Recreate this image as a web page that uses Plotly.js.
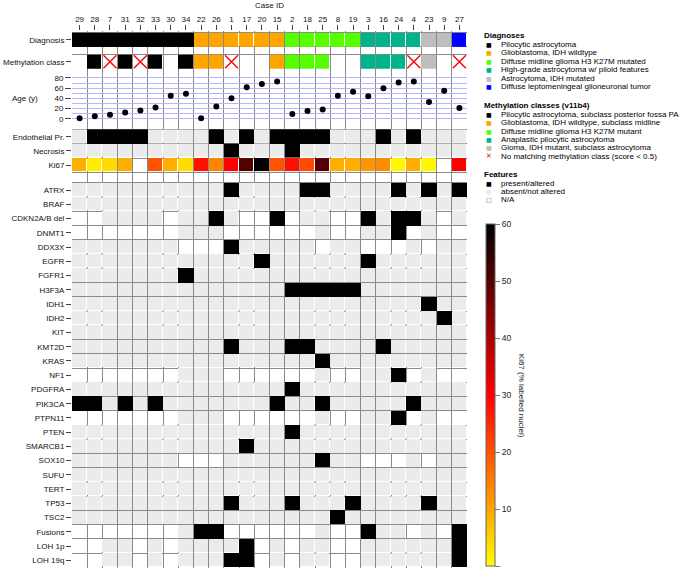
<!DOCTYPE html>
<html><head><meta charset="utf-8">
<script src="https://cdn.plot.ly/plotly-3.0.1.min.js"></script>
<style>html,body{margin:0;padding:0;background:#fff}#chart{width:685px;height:570px}</style>
</head><body><div id="chart"></div>
<script>
// ---------------- data ----------------
const caseIds = ['29','28','7','31','32','33','30','34','22','26','1','17','20','15','2','18','25','8','19','3','16','24','4','23','9','27'];
const diagnosis = ['PA','PA','PA','PA','PA','PA','PA','PA','GBM','GBM','GBM','GBM','GBM','GBM','DMG','DMG','DMG','DMG','DMG','HGAP','HGAP','HGAP','HGAP','IDH','IDH','DLGNT'];
const methylation = [null,'PA','none','PA','none','PA',null,'PA','GBM','GBM','none',null,null,'GBM','DMG','DMG','DMG',null,null,'APA','APA','APA','none','IDH',null,'none'];
const ageYears = [1,5,8,12,16,22,45,49,1,24,40,62,68,73,9,15,18,45,53,44,60,71,73,33,55,21];
const endothelialPr = [0,1,1,1,1,0,0,0,0,1,0,1,0,1,1,1,1,0,0,0,1,0,1,0,0,0];
const necrosis = [0,0,0,0,0,0,0,0,0,0,1,0,0,0,1,0,0,0,0,0,0,0,0,0,0,0];
const ki67 = [9,2,4,9,null,20,9,4,28,14,30,50,60,20,28,21,50,9,9,12,13,1,9,1,null,30];
const clinicalRows = ['Endothelial Pr.','Necrosis','Ki67'];
const geneNames = ['ATRX','BRAF','CDKN2A/B del','DNMT1','DDX3X','EGFR','FGFR1','H3F3A','IDH1','IDH2','KIT','KMT2D','KRAS','NF1','PDGFRA','PIK3CA','PTPN11','PTEN','SMARCB1','SOX10','SUFU','TERT','TP53','TSC2','Fusions','LOH 1p','LOH 19q'];
// '1' present/altered, '0' absent/not altered, '-' N/A
const geneStatus = [
  '00000000001000011000010101',
  '00000000000000000000000000',
  '--0000-0010--1-00--10110-0',
  '-------000------0--001-0--',
  '0000000---100000-00---0-00',
  '00000000000010000001000000',
  '00000001000000000000000000',
  '00000000000000111110000000',
  '00000000000000000000000100',
  '00000000000000000000000010',
  '00000000000000000000000000',
  '00000000001000110000100000',
  '00000000000000001000000000',
  '-------000------0--001-0--',
  '00000000000000100000000000',
  '11010100000001001000001000',
  '-------000------0--001-0--',
  '00000000000000100000000000',
  '00000000000100000000000000',
  '0000000---000000100---0-00',
  '00000000000000000000000000',
  '00000000000000000000000000',
  '00000000001000100010000100',
  '00000000000000000100000000',
  '-------011------0--100-0-1',
  '--00-0-00001-0-00--0000001',
  '--00-0-00011-0-00--0000001'
];
const diagnosisClasses = ['PA','GBM','DMG','HGAP','IDH','DLGNT'];
const diagnosisLabels = ['Pilocytic astrocytoma','Glioblastoma, IDH wildtype','Diffuse midline glioma H3 K27M mutated','High-grade astrocytoma w/ piloid features','Astrocytoma, IDH mutated','Diffuse leptomeningeal glioneuronal tumor'];
const methylationClasses = ['PA','GBM','DMG','APA','IDH'];
const methylationLabels = ['Pilocytic astrocytoma, subclass posterior fossa PA','Glioblastoma, IDH wildtype, subclass midline','Diffuse midline glioma H3 K27M mutant','Anaplastic pilocytic astrocytoma','Gioma, IDH mutant, subclass astrocytoma'];
const noMatchLabel = 'No matching methylation class (score < 0.5)';
const featureLabels = ['present/altered','absent/not altered','N/A'];
const classColors = ['#000000','#FFA500','#55FF00','#00B38A','#BEBEBE','#0000FF'];
const ki67Ticks = [0,10,20,30,40,50,60];
const ageTicks = [0,20,40,60,80];

// ---------------- geometry / styling ----------------
const W = 685, H = 570, ML = 72, MR = 218, MT = 31, MB = 2;
const plotW = W - ML - MR, plotH = H - MT - MB;
const py = p => (H - MB - p) / plotH;   // pixel y -> paper
const px = p => (p - ML) / plotW;       // pixel x -> paper
const FONT = 'Liberation Sans, Arial, Helvetica, sans-serif';
const GRID = '#8a8a8a';
const ABSENT = '#ebebeb';
const n = caseIds.length;
const xs = caseIds.map((_, i) => i);

function discreteScale(colors) {
  const s = [], k = colors.length;
  colors.forEach((c, i) => { s.push([i / k, c]); s.push([(i + 1) / k, c]); });
  return s;
}
const binScale = [[0, ABSENT], [0.5, ABSENT], [0.5, '#000000'], [1, '#000000']];
const blackScale = [[0, '#000000'], [1, '#000000']];
const onlyPresent = row => row.map(v => v === 1 ? 1 : null);

// top panel rows
const topPitch = 21.9, diagCenter = 39.8, topBottomPx = 69, topGap = 8;
const topRange = [(topBottomPx - diagCenter) / topPitch, (MT - diagCenter) / topPitch];
const edge = 0.5 - (topGap / 2) / topPitch;
// age panel
const age0 = 118.7, agePxPerUnit = 0.509, ageBottomPx = 124;
const ageRange = [-(ageBottomPx - age0) / agePxPerUnit, (age0 - topBottomPx) / agePxPerUnit];
// main panel
const rowPitch = 14.24, endoCenter = 136.7, geneOffset = 3.75;
const mainRange = [(H - MB - endoCenter) / rowPitch, (ageBottomPx - endoCenter) / rowPitch];
const geneY = geneNames.map((_, i) => geneOffset + i);
const geneZ = geneStatus.map(s => [...s].map(c => c === '1' ? 1 : (c === '0' ? 0 : null)));
const mainMinor = [-0.5, 0.5, 1.5, 2.5].concat(geneNames.concat(['']).map((_, i) => geneOffset - 0.5 + i));

const traces = [];
// Diagnosis
traces.push({type:'heatmap', x: xs, y: [0], z: [diagnosis.map(d => diagnosisClasses.indexOf(d))],
  colorscale: discreteScale(classColors), zmin: -0.5, zmax: classColors.length - 0.5,
  xgap: 1, ygap: topGap, showscale: false, hoverinfo: 'skip', xaxis: 'x', yaxis: 'y'});
traces.push({type:'heatmap', x: xs, y: [0], z: [diagnosis.map(d => d === 'PA' ? 1 : null)],
  colorscale: blackScale, zmin: 0, zmax: 1, ygap: topGap, showscale: false, hoverinfo: 'skip', xaxis: 'x', yaxis: 'y'});
// Methylation class
traces.push({type:'heatmap', x: xs, y: [1],
  z: [methylation.map(m => (m && m !== 'none') ? methylationClasses.indexOf(m) : null)],
  colorscale: discreteScale(classColors.slice(0, methylationClasses.length)), zmin: -0.5, zmax: methylationClasses.length - 0.5,
  xgap: 1, ygap: topGap, showscale: false, hoverinfo: 'skip', xaxis: 'x', yaxis: 'y'});
const noMatchX = xs.filter(i => methylation[i] === 'none');
traces.push({type:'scatter', mode:'markers', x: noMatchX, y: noMatchX.map(() => 1),
  marker: {symbol: 'x-thin', size: 13, color: '#FF0000', line: {color: '#FF0000', width: 1.4}},
  hoverinfo: 'skip', showlegend: false, cliponaxis: false, xaxis: 'x', yaxis: 'y'});
// Age
traces.push({type:'scatter', mode:'markers', x: xs, y: ageYears,
  marker: {size: 6, color: '#000000'}, hoverinfo: 'skip', showlegend: false, cliponaxis: false, xaxis: 'x', yaxis: 'y2'});
// Endothelial proliferation / necrosis
traces.push({type:'heatmap', x: xs, y: [0, 1], z: [endothelialPr, necrosis],
  colorscale: binScale, zmin: 0, zmax: 1, xgap: 1, ygap: 1, showscale: false, hoverinfo: 'skip', xaxis: 'x', yaxis: 'y3'});
traces.push({type:'heatmap', x: xs, y: [0, 1], z: [onlyPresent(endothelialPr), onlyPresent(necrosis)],
  colorscale: blackScale, zmin: 0, zmax: 1, showscale: false, hoverinfo: 'skip', xaxis: 'x', yaxis: 'y3'});
// Ki67
traces.push({type:'heatmap', x: xs, y: [2], z: [ki67],
  colorscale: [[0, '#FFFF00'], [1/6, '#FFA500'], [0.5, '#FF0000'], [1, '#000000']], zmin: 0, zmax: 60,
  xgap: 1, ygap: 1, hoverinfo: 'skip', xaxis: 'x', yaxis: 'y3', showscale: true,
  colorbar: {x: px(486), xanchor: 'left', xpad: 0, ypad: 0, y: py(224.3), yanchor: 'top',
    len: 342, lenmode: 'pixels', thickness: 9, thicknessmode: 'pixels',
    outlinewidth: 1, outlinecolor: '#666', tickvals: ki67Ticks, ticks: 'outside', ticklen: 5,
    tickcolor: '#777', tickfont: {family: FONT, size: 8.5, color: '#222'}}});
// Genes
traces.push({type:'heatmap', x: xs, y: geneY, z: geneZ,
  colorscale: binScale, zmin: 0, zmax: 1, xgap: 1, ygap: 1, showscale: false, hoverinfo: 'skip', xaxis: 'x', yaxis: 'y3'});
traces.push({type:'heatmap', x: xs, y: geneY, z: geneZ.map(onlyPresent),
  colorscale: blackScale, zmin: 0, zmax: 1, showscale: false, hoverinfo: 'skip', xaxis: 'x', yaxis: 'y3'});

const tickFont = {family: FONT, size: 8, color: '#111'};
const yBase = {ticks: 'outside', ticklen: 5, tickcolor: '#444', tickwidth: 1, showline: false,
  zeroline: false, showgrid: false, tickfont: tickFont, automargin: false, fixedrange: true};

// legend annotations
const annotations = [];
function header(text, p) {
  annotations.push({xref:'paper', yref:'paper', x: px(482), y: py(p), xanchor:'left', yanchor:'middle',
    text: '<b>' + text + '</b>', showarrow: false, font: {family: FONT, size: 8, color: '#000'}});
}
function item(glyph, color, size, text, p) {
  annotations.push({xref:'paper', yref:'paper', x: px(489), y: py(p), xanchor:'center', yanchor:'middle',
    text: glyph, showarrow: false, font: {family: 'DejaVu Sans, sans-serif', size: size, color: color}});
  annotations.push({xref:'paper', yref:'paper', x: px(499), y: py(p), xanchor:'left', yanchor:'middle',
    text: text, showarrow: false, font: {family: FONT, size: 8, color: '#000'}});
}
header('Diagnoses', 35.3);
diagnosisLabels.forEach((t, i) => item('■', classColors[i], 6, t, 44.3 + i * 8.47));
header('Methylation classes (v11b4)', 105.7);
methylationLabels.forEach((t, i) => item('■', classColors[i], 6, t, 114.3 + i * 8.4));
item('✕', '#FF0000', 7, noMatchLabel, 114.3 + methylationLabels.length * 8.4);
header('Features', 174.3);
const featureGlyphs = [['■', '#000000'], ['■', ABSENT], ['□', '#444444']];
featureLabels.forEach((t, i) => item(featureGlyphs[i][0], featureGlyphs[i][1], 6, t, 183.3 + i * 8.2));
annotations.push({xref:'paper', yref:'paper', x: px(521.7), y: py(395.5), xanchor:'center', yanchor:'middle',
  text: 'Ki67 (% labelled nuclei)', textangle: 90, showarrow: false, font: {family: FONT, size: 8, color: '#111'}});
annotations.push({xref:'paper', yref:'y2', x: px(40), y: 40, xanchor:'right', yanchor:'middle',
  text: 'Age (y)', showarrow: false, font: {family: FONT, size: 8, color: '#111'}});

const layout = {
  width: W, height: H, margin: {l: ML, r: MR, t: MT, b: MB}, showlegend: false,
  paper_bgcolor: '#fff', plot_bgcolor: '#fff', font: {family: FONT, size: 8, color: '#111'},
  xaxis: {range: [-0.5, n - 0.5], side: 'top', anchor: 'y', tickvals: xs, ticktext: caseIds,
    ticks: 'outside', ticklen: 5, tickcolor: '#444', showgrid: false, zeroline: false, showline: false,
    tickfont: tickFont, automargin: false, fixedrange: true,
    title: {text: 'Case ID', font: {family: FONT, size: 8, color: '#111'}, standoff: 4},
    minor: {tickvals: xs.concat([n]).map(i => i - 0.5), showgrid: true, gridcolor: GRID, gridwidth: 1, ticks: ''}},
  yaxis: Object.assign({}, yBase, {domain: [py(topBottomPx), 1], anchor: 'x', range: topRange,
    tickvals: [0, 1], ticktext: ['Diagnosis', 'Methylation class'],
    minor: {tickvals: [-edge, edge, 1 - edge, 1 + edge], showgrid: true, gridcolor: GRID, gridwidth: 1, ticks: ''}}),
  yaxis2: Object.assign({}, yBase, {domain: [py(ageBottomPx), py(topBottomPx)], anchor: 'x', range: ageRange,
    tickvals: ageTicks, showgrid: true, gridcolor: '#b4b4ff', gridwidth: 1, ticklen: 6,
    minor: {tickvals: [10, 30, 50, 70], showgrid: true, gridcolor: '#b4b4ff', gridwidth: 1, ticks: ''}}),
  yaxis3: Object.assign({}, yBase, {domain: [0, py(ageBottomPx)], anchor: 'x', range: mainRange,
    tickvals: [0, 1, 2].concat(geneY), ticktext: clinicalRows.concat(geneNames),
    minor: {tickvals: mainMinor, showgrid: true, gridcolor: GRID, gridwidth: 1, ticks: ''}}),
  annotations: annotations
};
Plotly.newPlot('chart', traces, layout, {displayModeBar: false, staticPlot: true});
</script></body></html>
